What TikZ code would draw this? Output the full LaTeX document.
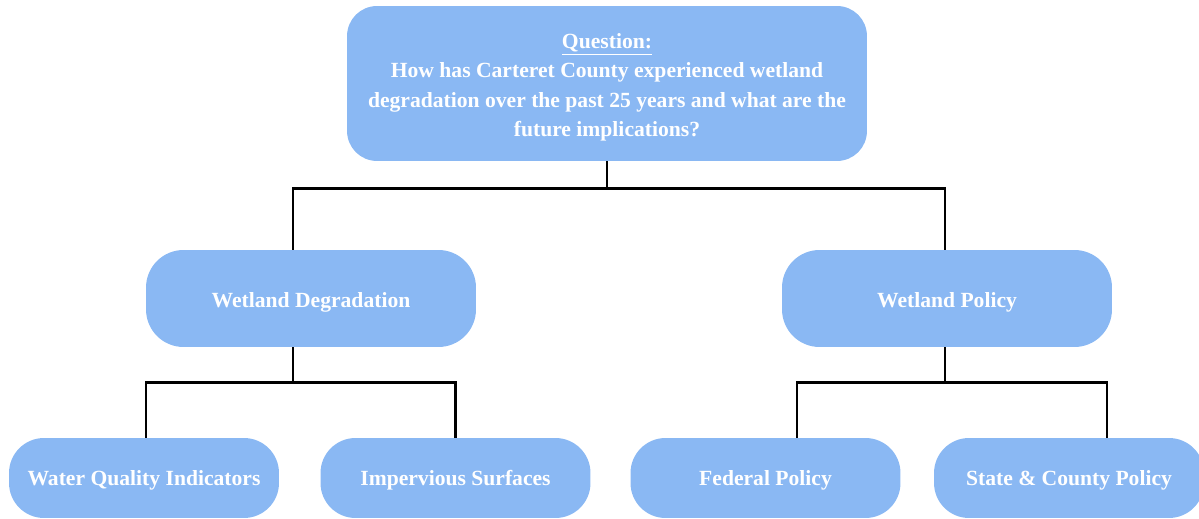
\documentclass[tikz,border=0pt]{standalone}
\usepackage{fontspec}
\setmainfont{Liberation Serif}
\usepackage{tikz}
\definecolor{boxblue}{RGB}{138,184,243}
\tikzset{
  box/.style={
    fill=boxblue,
    text=white,
    font={\bfseries\fontsize{12.3}{16.8}\selectfont},
    align=center,
    inner sep=0pt
  },
  qbox/.style={box, minimum width=10.4cm, minimum height=3.1cm, rounded corners=0.6cm},
  midbox/.style={box, minimum width=6.6cm, minimum height=1.94cm, rounded corners=0.75cm},
  leafbox/.style={box, minimum width=5.4cm, minimum height=1.6cm, rounded corners=0.7cm},
  link/.style={draw=black, line width=1.6pt}
}

\begin{document}
\begin{tikzpicture}[x=0.02cm, y=-0.02cm]
\useasboundingbox (0,0) rectangle (1199,519);
% question
\node[qbox] (q) at (607,83.5) {\rule{0pt}{13pt}\underline{Question:}\\How has Carteret County experienced wetland\\degradation over the past 25 years and what are the\\future implications?};
% two themes
\node[midbox] (deg) at (311,298.5) {\rule{0pt}{12.5pt}Wetland Degradation};
\node[midbox] (pol) at (947,298.5) {\rule{0pt}{12.5pt}Wetland Policy};
% leaves
\node[leafbox] (wq) at (144,478) {\rule{0pt}{11pt}Water Quality Indicators};
\node[leafbox] (imp) at (455.5,478) {\rule{0pt}{11pt}Impervious Surfaces};
\node[leafbox] (fed) at (765.5,478) {\rule{0pt}{11pt}Federal Policy};
\node[leafbox] (sc) at (1069,478) {\rule{0pt}{11pt}State \& County Policy};
% connectors
\draw[link] (q.south) -- ++(0,27) coordinate (qj);
\draw[link] ([xshift=-0.36cm]deg.north) |- (qj) -| ([xshift=-0.04cm]pol.north);
\draw[link] ([xshift=-0.36cm]deg.south) -- ++(0,35) coordinate (dj);
\draw[link] ([xshift=0.04cm]wq.north) |- (dj) -| (imp.north);
\draw[link] ([xshift=-0.04cm]pol.south) -- ++(0,35) coordinate (pj);
\draw[link] ([xshift=0.63cm]fed.north) |- (pj) -| ([xshift=0.76cm]sc.north);
\end{tikzpicture}
\end{document}
